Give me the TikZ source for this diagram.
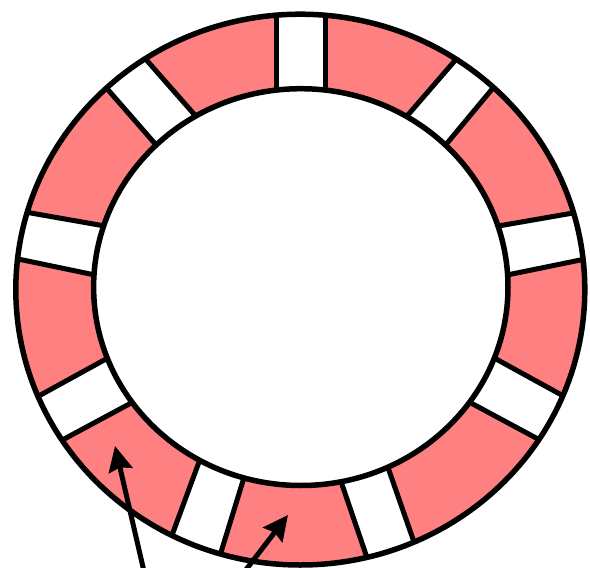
\documentclass[tikz,border=0pt]{standalone}
\usetikzlibrary{arrows.meta,calc}
\definecolor{ringpink}{RGB}{255,128,128}
\begin{document}
\begin{tikzpicture}[x=1pt,y=-1pt,
  ringline/.style={line width=5.5pt},
  stripline/.style={line width=5pt},
  pointer/.style={line width=5pt,-{Stealth[length=25pt,width=24pt,inset=3pt]}}]
\useasboundingbox (0,0) rectangle (590,568);
\clip (0,0) rectangle (590,568);
\coordinate (oc) at (300.3,289.6);
\coordinate (ic) at (300.8,287.1);
\begin{scope}
  \clip (oc) ellipse [x radius=284.5, y radius=275.4];
  \fill[ringpink] (oc) ellipse [x radius=284.5, y radius=275.4];
  \foreach \ax/\ay/\bx/\by/\cx/\cy/\dx/\dy in {
      276.5/0/276.5/100/325.8/0/325.8/100,
      106.7/88.3/153.3/141.7/145/58.3/193.3/113.3,
      457.2/58/408.3/114.5/493/88/447.8/142.3,
      24.5/211.9/100.8/225.3/18.1/259/91.1/274.2,
      579.5/211.9/502.4/225.3/585.2/259/511/274.2,
      37.6/396.6/103.5/360.4/62.1/440.1/126.1/405.7,
      564.5/396.6/498.6/360.4/540/440.1/476/405.7,
      173.3/531.7/196.7/468.3/221.7/550/241.7/485,
      366.7/556.7/343.3/488.3/413.3/540/390/473.3} {
    \coordinate (p1) at ($(\ax,\ay)!-0.4!(\bx,\by)$);
    \coordinate (q1) at ($(\bx,\by)!-0.4!(\ax,\ay)$);
    \coordinate (p2) at ($(\cx,\cy)!-0.4!(\dx,\dy)$);
    \coordinate (q2) at ($(\dx,\dy)!-0.4!(\cx,\cy)$);
    \fill[white] (p1) -- (q1) -- (q2) -- (p2) -- cycle;
    \draw[stripline] (p1) -- (q1) (p2) -- (q2);
  }
\end{scope}
\fill[white] (ic) ellipse [x radius=207.2, y radius=198.4];
\draw[ringline] (ic) ellipse [x radius=207.2, y radius=198.4];
\draw[ringline] (oc) ellipse [x radius=284.5, y radius=275.4];
\coordinate (a1tail) at (149,593);
\coordinate (a1tip) at (115,446);
\coordinate (a2tail) at (230.4,590);
\coordinate (a2tip) at (288,515);
\draw[pointer] (a1tail) -- (a1tip);
\draw[pointer] (a2tail) -- (a2tip);
\end{tikzpicture}
\end{document}
